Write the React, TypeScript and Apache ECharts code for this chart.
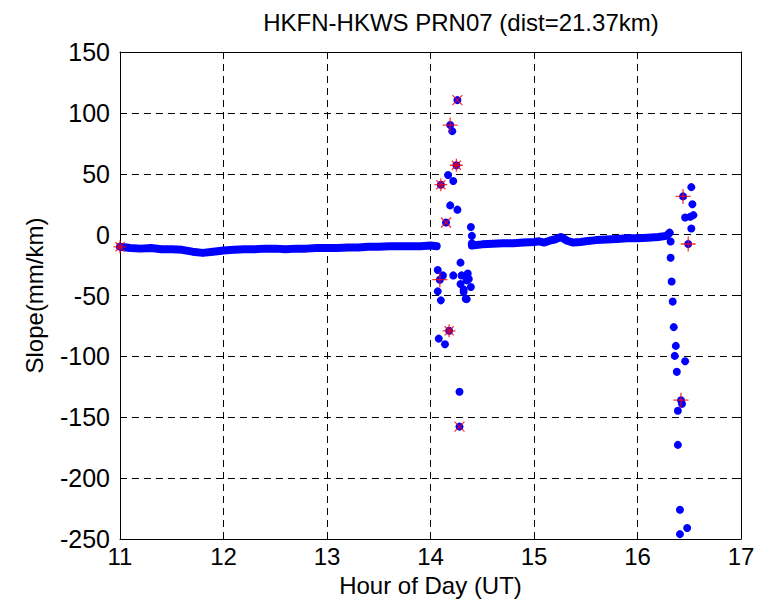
import React, { useEffect, useRef } from "react";
import * as echarts from "echarts";

const xTicks = [11, 12, 13, 14, 15, 16, 17];
const yTicks = [-250, -200, -150, -100, -50, 0, 50, 100, 150];

// continuous slope trace, segment 1 (hour, mm/km)
const seg1Hours = [11.0, 11.1, 11.2, 11.3, 11.4, 11.5, 11.6, 11.7, 11.8, 11.9, 12.0, 12.1, 12.2, 12.3, 12.4, 12.5, 12.6, 12.7, 12.8, 12.9, 13.0, 13.1, 13.2, 13.3, 13.4, 13.5, 13.6, 13.7, 13.8, 13.9, 14.0, 14.06];
const seg1Values = [-10, -11, -11.5, -11, -12, -12, -12.5, -14, -15, -14, -13, -12.5, -12, -12, -11.5, -11.5, -12, -11.5, -11.5, -11, -11, -11, -10.5, -10.5, -10, -10, -9.5, -9.5, -9.5, -9.5, -9, -9.5];

// segment 2
const seg2Hours = [14.4, 14.5, 14.6, 14.7, 14.8, 14.9, 15.0, 15.05, 15.1, 15.15, 15.2, 15.26, 15.32, 15.38, 15.45, 15.5, 15.6, 15.7, 15.8, 15.9, 16.0, 16.1, 16.2, 16.28, 16.31];
const seg2Values = [-9, -8, -7.5, -7, -7, -6.5, -6, -5.5, -6.5, -5, -4, -2, -5, -6.5, -6, -5.5, -4.5, -4, -3.5, -3, -3, -2.5, -2, -1, 1.5];

// scattered points (disturbed periods)
const dotHours = [14.26, 14.19, 14.21, 14.25, 14.17, 14.22, 14.10, 14.19, 14.26, 14.15, 14.39, 14.40, 14.40, 14.29, 14.07, 14.12, 14.22, 14.09, 14.30, 14.36, 14.37, 14.35, 14.29, 14.39, 14.32, 14.07, 14.32, 14.10, 14.34, 14.35, 14.18, 14.08, 14.14, 14.28, 14.28,
  16.52, 16.44, 16.53, 16.46, 16.51, 16.54, 16.52, 16.32, 16.49, 16.32, 16.33, 16.34, 16.35, 16.37, 16.36, 16.46, 16.38, 16.42, 16.43, 16.39, 16.39, 16.41, 16.48, 16.41];
const dotValues = [110.5, 90, 85, 57, 49, 44, 41, 24, 20.5, 10, 6.3, -1, -7, -23, -29, -33.5, -33.5, -37, -33.5, -32, -36.5, -37.6, -40.6, -43, -45, -46.6, -47, -54, -52.6, -53, -79, -85.4, -90, -129, -157.7,
  39, 31.4, 25, 14, 14.7, 16, 5, -5.7, -7.7, -19, -38.5, -55, -76, -91.4, -99.6, -104, -112.7, -136, -139, -144.6, -172.7, -226, -241, -246];

// red flagged points
const plusHours = [14.19, 14.09, 16.44, 16.49, 16.42];
const plusValues = [90, -37, 31.4, -7.7, -136];
const crossHours = [14.26, 14.15, 14.28];
const crossValues = [110.5, 10, -157.7];
const starHours = [11.0, 14.25, 14.10, 14.18];
const starValues = [-10, 57, 41, -79];

const zip = (a: number[], b: number[]) => a.map((v, i) => [v, b[i]]);

const FONT = "Liberation Sans, Arial, sans-serif";

export default function App() {
  const ref = useRef<HTMLDivElement>(null);
  useEffect(() => {
    if (!ref.current) return;
    const chart = echarts.init(ref.current, null, { renderer: "svg" });
    const plusPath = "path://M0,5L10,5M5,0L5,10";
    const crossPath = "path://M0,0L10,10M10,0L0,10";
    const starPath = "path://M0,5L10,5M5,0L5,10M1.5,1.5L8.5,8.5M8.5,1.5L1.5,8.5";
    const redStyle = { color: "rgba(0,0,0,0)", borderColor: "#ff0000", borderWidth: 1.3 };
    const axisCommon = {
      type: "value" as const,
      axisLine: { show: true, onZero: false, lineStyle: { color: "#000", width: 1 } },
      axisTick: { show: true, inside: true, length: 6, lineStyle: { color: "#000" } },
    };
    chart.setOption({
      animation: false,
      backgroundColor: "#fff",
      title: {
        text: "HKFN-HKWS PRN07 (dist=21.37km)",
        left: 456,
        textAlign: "center",
        top: 5,
        textStyle: { fontFamily: FONT, fontSize: 24, fontWeight: "normal", color: "#000" },
      },
      grid: { left: 120, right: 28, top: 52, bottom: 69 },
      xAxis: [
        {
          ...axisCommon,
          min: 11, max: 17, interval: 1,
          name: "Hour of Day (UT)",
          nameLocation: "middle",
          nameGap: 34,
          nameMoveOverlap: false,
          nameTextStyle: { fontFamily: FONT, fontSize: 24, lineHeight: 24, color: "#000" },
          axisLabel: { fontFamily: FONT, fontSize: 24, lineHeight: 22, color: "#000", margin: 6 },
          splitLine: { show: true, lineStyle: { color: "#000", type: [7, 5], width: 1 } },
        },
        {
          ...axisCommon,
          position: "top",
          min: 11, max: 17, interval: 1,
          axisLabel: { show: false },
          splitLine: { show: false },
        },
      ],
      yAxis: [
        {
          ...axisCommon,
          min: -250, max: 150, interval: 50,
          name: "Slope(mm/km)",
          nameLocation: "middle",
          nameGap: 74,
          nameMoveOverlap: false,
          nameTextStyle: { fontFamily: FONT, fontSize: 24, color: "#000" },
          axisLabel: { fontFamily: FONT, fontSize: 25, color: "#000", margin: 10 },
          splitLine: { show: true, lineStyle: { color: "#000", type: [7, 5], width: 1 } },
        },
        {
          ...axisCommon,
          position: "right",
          min: -250, max: 150, interval: 50,
          axisLabel: { show: false },
          splitLine: { show: false },
        },
      ],
      series: [
        {
          type: "line",
          data: zip(seg1Hours, seg1Values),
          showSymbol: false,
          lineStyle: { color: "#0000ff", width: 8, cap: "round", join: "round" },
          z: 3,
        },
        {
          type: "line",
          data: zip(seg2Hours, seg2Values),
          showSymbol: false,
          lineStyle: { color: "#0000ff", width: 8, cap: "round", join: "round" },
          z: 3,
        },
        {
          type: "scatter",
          data: zip(dotHours, dotValues),
          symbol: "circle",
          symbolSize: 8,
          itemStyle: { color: "#0000ff", opacity: 1 },
          z: 3,
        },
        {
          type: "scatter",
          data: zip(plusHours, plusValues),
          symbol: plusPath,
          symbolSize: 15,
          itemStyle: redStyle,
          z: 5,
        },
        {
          type: "scatter",
          data: zip(crossHours, crossValues),
          symbol: crossPath,
          symbolSize: 10,
          itemStyle: redStyle,
          z: 5,
        },
        {
          type: "scatter",
          data: zip(starHours, starValues),
          symbol: starPath,
          symbolSize: 13,
          itemStyle: redStyle,
          z: 5,
        },
      ],
    });
    return () => chart.dispose();
  }, []);
  return <div ref={ref} style={{ width: 769, height: 608, marginTop: -8, marginLeft: -8 }} />;
}
